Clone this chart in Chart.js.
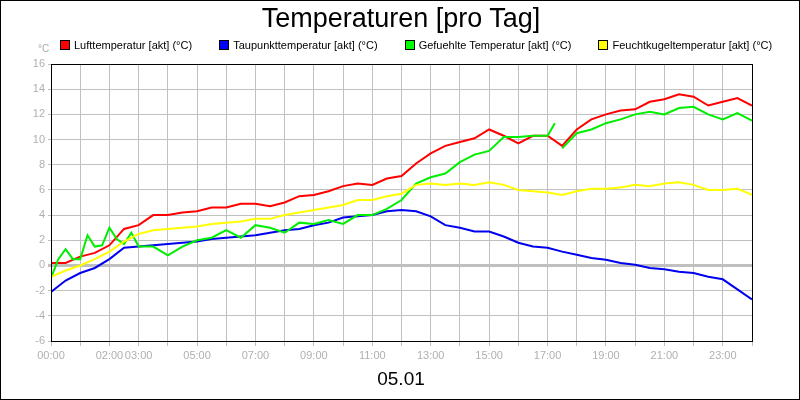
<!DOCTYPE html>
<html lang="de">
<head>
<meta charset="UTF-8">
<title>Temperaturen [pro Tag]</title>
<script src="https://cdn.jsdelivr.net/npm/chart.js"></script>
<style>
  body { margin: 0; }
  .wrap { position: relative; width: 800px; height: 400px; box-sizing: border-box; border: 1px solid #000; background: #fff; font-family: "Liberation Sans", Arial, sans-serif; overflow: hidden; }
  canvas { position: absolute; left: 0; top: 0; }
  .title { position: absolute; top: 2px; left: 0; width: 800px; text-align: center; font-size: 27px; }
  .legend { position: absolute; top: 38px; left: 59px; font-size: 11px; white-space: nowrap; }
  .legend span { margin-right: 24px; }
  .legend i { display: inline-block; width: 8px; height: 8px; border: 1px solid #000; margin-right: 4px; vertical-align: -1px; }
  .unit { position: absolute; top: 42px; left: 37px; font-size: 10px; color: #aaa; }
  .day { position: absolute; top: 367px; left: 0; width: 800px; text-align: center; font-size: 19px; }
</style>
</head>
<body>
<div class="wrap">
  <canvas id="c" width="798" height="398"></canvas>
  <div class="title">Temperaturen [pro Tag]</div>
  <div class="legend">
    <span><i style="background:#f00"></i>Lufttemperatur [akt] (°C)</span>
    <span><i style="background:#00f"></i>Taupunkttemperatur [akt] (°C)</span>
    <span><i style="background:#0f0"></i>Gefuehlte Temperatur [akt] (°C)</span>
    <span><i style="background:#ff0"></i>Feuchtkugeltemperatur [akt] (°C)</span>
  </div>
  <div class="unit">°C</div>
  <div class="day">05.01</div>
</div>
<script>
// hours of the day, half-hourly
const hours = [0,0.5,1,1.5,2,2.5,3,3.5,4,4.5,5,5.5,6,6.5,7,7.5,8,8.5,9,9.5,10,10.5,11,11.5,12,12.5,13,13.5,14,14.5,15,15.5,16,16.5,17,17.5,18,18.5,19,19.5,20,20.5,21,21.5,22,22.5,23,23.5,24];
const luft = [0.2,0.2,0.7,1.0,1.6,2.9,3.2,4.0,4.0,4.2,4.3,4.6,4.6,4.9,4.9,4.7,5.0,5.5,5.6,5.9,6.3,6.5,6.4,6.9,7.1,8.1,8.9,9.5,9.8,10.1,10.8,10.3,9.7,10.3,10.3,9.5,10.8,11.6,12.0,12.3,12.4,13.0,13.2,13.6,13.4,12.7,13.0,13.3,12.7];
const taupunkt = [-2.1,-1.2,-0.6,-0.2,0.5,1.4,1.5,1.6,1.7,1.8,1.9,2.1,2.2,2.3,2.4,2.6,2.8,2.9,3.2,3.4,3.8,3.9,4.0,4.3,4.4,4.3,3.9,3.2,3.0,2.7,2.7,2.3,1.8,1.5,1.4,1.1,0.85,0.6,0.45,0.2,0.05,-0.2,-0.3,-0.5,-0.6,-0.9,-1.1,-1.9,-2.7];
const feuchtkugel = [-0.9,-0.4,0.0,0.5,1.1,1.9,2.5,2.8,2.9,3.0,3.1,3.3,3.4,3.5,3.7,3.7,4.0,4.2,4.4,4.6,4.8,5.2,5.2,5.5,5.7,6.4,6.5,6.4,6.5,6.4,6.6,6.4,6.0,5.9,5.8,5.6,5.9,6.1,6.1,6.2,6.4,6.3,6.5,6.6,6.4,6.0,6.0,6.1,5.6];
// felt temperature, quarter-hourly at the start, gap after 17:15
const gefHours = [0,0.25,0.5,0.75,1,1.25,1.5,1.75,2,2.25,2.5,2.75,3,3.5,4,4.5,5,5.5,6,6.5,7,7.5,8,8.5,9,9.5,10,10.5,11,11.5,12,12.5,13,13.5,14,14.5,15,15.5,16,16.5,17,17.25,17.4,17.5,18,18.5,19,19.5,20,20.5,21,21.5,22,22.5,23,23.5,24];
const gefuehlt = [-1.0,0.5,1.3,0.5,0.5,2.4,1.5,1.6,3.0,2.1,1.7,2.6,1.5,1.5,0.8,1.5,2.0,2.2,2.8,2.2,3.2,3.0,2.6,3.4,3.3,3.6,3.3,4.0,4.0,4.5,5.2,6.5,7.0,7.3,8.2,8.8,9.1,10.2,10.2,10.3,10.3,11.3,null,9.3,10.5,10.8,11.3,11.6,12.0,12.2,12.0,12.5,12.6,12.0,11.6,12.1,11.5];
const labelHours = [0,2,3,5,7,9,11,13,15,17,19,21,23];

const pts = (xs, ys) => xs.map((x, i) => ({ x: x, y: ys[i] }));
const ds = (label, data, color) => ({ label, data, borderColor: color, borderWidth: 2, pointRadius: 0, tension: 0, spanGaps: false });

new Chart(document.getElementById('c'), {
  type: 'line',
  data: {
    datasets: [
      ds('Feuchtkugeltemperatur [akt] (°C)', pts(hours, feuchtkugel), '#ffff00'),
      ds('Gefuehlte Temperatur [akt] (°C)', pts(gefHours, gefuehlt), '#00ee00'),
      ds('Taupunkttemperatur [akt] (°C)', pts(hours, taupunkt), '#0000ee'),
      ds('Lufttemperatur [akt] (°C)', pts(hours, luft), '#ff0000')
    ]
  },
  options: {
    responsive: false,
    animation: false,
    layout: { padding: { top: 63, right: 47, bottom: 38, left: 0 } },
    plugins: { legend: { display: false }, tooltip: { enabled: false } },
    scales: {
      x: {
        type: 'linear', min: 0, max: 24,
        border: { color: '#000', width: 1 },
        grid: { color: '#c0c0c0', tickLength: 5 },
        afterFit: s => { s.height = 20; },
        ticks: {
          stepSize: 1, autoSkip: false, maxRotation: 0, color: '#b0b0b0', font: { size: 11 },
          callback: v => labelHours.includes(v) ? String(v).padStart(2, '0') + ':00' : ''
        }
      },
      y: {
        min: -6, max: 16,
        border: { color: '#000', width: 1 },
        grid: {
          color: '#c0c0c0', tickLength: 3,
          lineWidth: c => c.tick && c.tick.value === 0 ? 3 : 1
        },
        afterFit: s => { s.width = 50; },
        ticks: { stepSize: 2, color: '#b0b0b0', font: { size: 11 } }
      }
    }
  },
  plugins: [{
    id: 'frame',
    afterDraw(chart) {
      const { ctx, chartArea: a } = chart;
      ctx.save();
      ctx.strokeStyle = '#000';
      ctx.lineWidth = 1;
      ctx.strokeRect(a.left + 0.5, a.top + 0.5, a.right - a.left, a.bottom - a.top);
      ctx.restore();
    }
  }]
});
</script>
</body>
</html>
